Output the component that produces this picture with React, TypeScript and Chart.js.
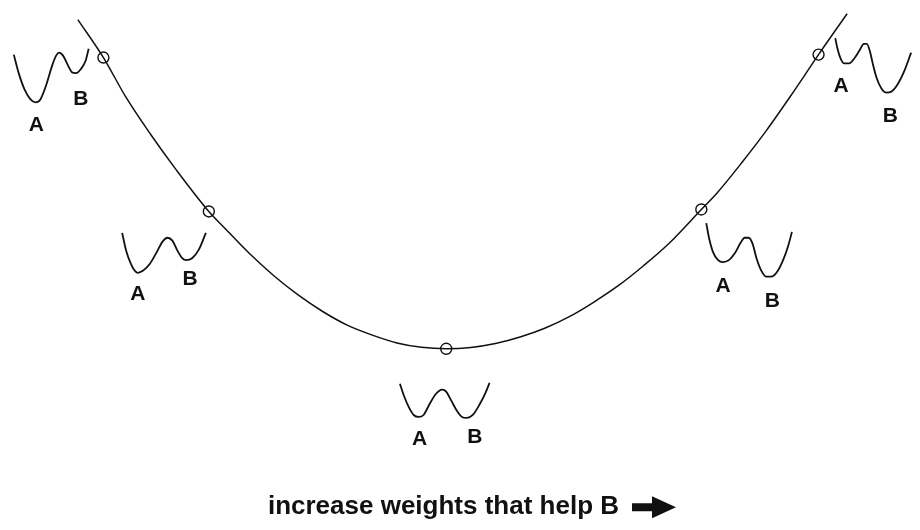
import React, { useEffect, useRef } from "react";
import { Chart, registerables } from "chart.js";

Chart.register(...registerables);

// Main energy curve: weight (horizontal) vs. energy (vertical)
const curveWeights = [-374, -348, -325, -300, -275, -241, -225, -200, -175, -150, -125, -100, -75, -50, -25, 0, 25, 50, 75, 100, 125, 150, 175, 200, 225, 259, 275, 300, 325, 350, 378, 407];
const curveEnergy = [338, 299, 258, 220, 185, 141, 124, 98, 75, 55, 38, 24, 14, 6, 1.5, 0, 1.3, 5.3, 12, 21, 33, 48, 65, 85, 107, 143, 160, 191, 224, 260, 302, 344];

// Marked states on the curve
const markerWeights = [-348, -241, 0, 259, 378];
const markerEnergy = [299, 141, 0, 143, 302];

// Double-well insets (picture units)
const well1X = [7, 12, 18, 24, 29, 34, 40, 46, 50, 53, 57, 62, 66, 70, 75, 80, 83];
const well1Y = [49, 68, 85, 95, 98, 95, 80, 60, 50, 47, 50, 60, 67, 68, 64, 55, 43];
const well2X = [117, 121, 126, 130, 133, 138, 145, 152, 158, 163, 168, 173, 178, 182, 188, 195, 202];
const well2Y = [232, 250, 264, 271, 273, 271, 264, 252, 241, 237, 240, 250, 258, 260, 258, 249, 232];
const well3X = [399, 403, 408, 413, 418, 423, 429, 435, 439, 442, 446, 451, 457, 462, 467, 473, 480, 486, 490];
const well3Y = [387, 399, 411, 419, 421, 419, 408, 398, 394, 393, 395, 404, 415, 421, 422, 419, 408, 396, 386];
const well4X = [841, 843, 846, 850, 855, 861, 866, 870, 873, 876, 879, 883, 888, 893, 898, 904, 911, 918];
const well4Y = [32, 42, 52, 58, 58, 52, 44, 38, 38, 45, 58, 73, 84, 88, 87, 80, 66, 47];
const well5X = [710, 713, 717, 722, 727, 733, 739, 745, 749, 753, 757, 761, 766, 771, 776, 782, 788, 793, 797];
const well5Y = [222, 238, 252, 260, 262, 260, 253, 242, 237, 237, 243, 258, 271, 277, 277, 272, 260, 246, 231];

// Well labels
const labelTexts = ["A", "B", "A", "B", "A", "B", "A", "B", "A", "B"];
const labelX = [30, 75, 133, 186, 419, 475, 847, 897, 727, 777];
const labelY = [120, 93, 293, 278, 442, 440, 80, 110, 285, 300];

const captionText = "increase weights that help B";
const captionX = 265;
const captionY = 521;

const INK = "#111111";

function toPoints(xs: number[], ys: number[]) {
  return xs.map((x, i) => ({ x, y: ys[i] }));
}

const annotationPlugin = {
  id: "wellLabels",
  afterDatasetsDraw(chart: any) {
    const ctx = chart.ctx;
    const gx = chart.scales.gx;
    const gy = chart.scales.gy;
    ctx.save();
    ctx.fillStyle = INK;
    ctx.textAlign = "center";
    ctx.textBaseline = "alphabetic";
    ctx.font = "bold 21px 'Liberation Sans', Arial, sans-serif";
    labelTexts.forEach((t, i) => {
      ctx.fillText(t, gx.getPixelForValue(labelX[i]), gy.getPixelForValue(labelY[i]) + 7.5);
    });
    // caption
    ctx.font = "bold 26px 'Liberation Sans', Arial, sans-serif";
    ctx.textAlign = "left";
    const cx = gx.getPixelForValue(captionX);
    const cy = gy.getPixelForValue(captionY);
    ctx.fillText(captionText, cx, cy);
    const w = ctx.measureText(captionText).width;
    // block arrow after the caption
    const ax = cx + w + 13;
    const ay = cy - 7;
    ctx.beginPath();
    ctx.moveTo(ax, ay - 4);
    ctx.lineTo(ax + 20, ay - 4);
    ctx.lineTo(ax + 20, ay - 11);
    ctx.lineTo(ax + 44, ay);
    ctx.lineTo(ax + 20, ay + 11);
    ctx.lineTo(ax + 20, ay + 4);
    ctx.lineTo(ax, ay + 4);
    ctx.closePath();
    ctx.fill();
    ctx.restore();
  },
};

export default function App() {
  const ref = useRef<HTMLCanvasElement | null>(null);

  useEffect(() => {
    document.body.style.margin = "0";
    document.body.style.background = "#ffffff";
    if (!ref.current) return;
    const wellDs = (xs: number[], ys: number[]) => ({
      type: "line" as const,
      data: toPoints(xs, ys),
      xAxisID: "gx",
      yAxisID: "gy",
      borderColor: INK,
      borderWidth: 1.8,
      pointRadius: 0,
      cubicInterpolationMode: "monotone" as const,
      fill: false,
      clip: false as any,
    });
    const chart = new Chart(ref.current, {
      type: "line",
      data: {
        datasets: [
          {
            data: toPoints(markerWeights, markerEnergy),
            xAxisID: "x",
            yAxisID: "y",
            showLine: false,
            pointRadius: 5.5,
            pointBorderWidth: 1.4,
            pointBorderColor: INK,
            pointBackgroundColor: "rgba(255,255,255,0)",
            clip: false as any,
          },
          {
            data: toPoints(curveWeights, curveEnergy),
            xAxisID: "x",
            yAxisID: "y",
            borderColor: INK,
            borderWidth: 1.5,
            pointRadius: 0,
            cubicInterpolationMode: "monotone",
            fill: false,
            clip: false as any,
          },
          wellDs(well1X, well1Y),
          wellDs(well2X, well2Y),
          wellDs(well3X, well3Y),
          wellDs(well4X, well4Y),
          wellDs(well5X, well5Y),
        ],
      },
      options: {
        animation: false,
        responsive: false,
        maintainAspectRatio: false,
        layout: { padding: 0 },
        plugins: {
          legend: { display: false },
          tooltip: { enabled: false },
          title: { display: false },
        },
        scales: {
          x: { type: "linear", min: -446, max: 474, display: false },
          y: { type: "linear", min: -179, max: 351, display: false },
          gx: { type: "linear", min: 0, max: 920, display: false, position: "bottom" },
          gy: { type: "linear", min: 0, max: 530, reverse: true, display: false, position: "left" },
        },
      },
      plugins: [annotationPlugin],
    });
    return () => chart.destroy();
  }, []);

  return (
    <div style={{ width: 920, height: 530, background: "#fff" }}>
      <canvas ref={ref} width={920} height={530} style={{ display: "block", width: 920, height: 530 }} />
    </div>
  );
}
